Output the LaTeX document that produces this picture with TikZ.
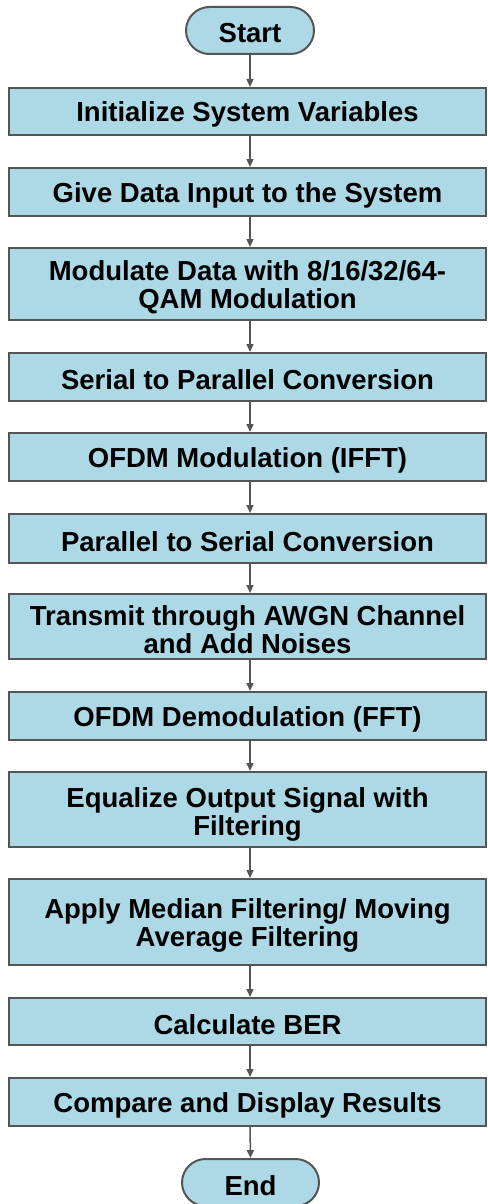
\documentclass[tikz,border=0pt]{standalone}
\usepackage{fontspec}
\setmainfont{Liberation Sans}
\usetikzlibrary{arrows.meta,shapes.misc}
\definecolor{boxfill}{HTML}{ADD8E6}
\definecolor{edge}{HTML}{555555}
\tikzset{
  txt/.style={align=center, inner sep=0pt, yshift=-3pt, font=\fontsize{27.5}{28}\selectfont\bfseries},
  stepbox/.style={draw=edge, fill=boxfill, line width=2pt, rectangle, minimum width=477pt, inner sep=0pt},
  term/.style={draw=edge, fill=boxfill, line width=2pt, rounded rectangle, inner sep=0pt, minimum height=47pt},
  arr/.style={draw=edge, line width=1.5pt, -{Triangle[length=8pt,width=7pt]}}
}
\begin{document}
\begin{tikzpicture}[x=1pt,y=1pt]
\useasboundingbox (0,0) rectangle (487,-1204);
\begin{scope}
\clip (0,0) rectangle (487,-1204);
\node[term, minimum width=128pt, label={[txt]center:Start}] (start) at (250,-30.5) {};
\node[stepbox, minimum height=47pt, label={[txt]center:Initialize System Variables}] (b1) at (247.5,-111.5) {};
\node[stepbox, minimum height=48pt, label={[txt]center:Give Data Input to the System}] (b2) at (247.5,-192) {};
\node[stepbox, minimum height=72pt, label={[txt]center:Modulate Data with 8/16/32/64-\\QAM Modulation}] (b3) at (247.5,-284) {};
\node[stepbox, minimum height=48pt, label={[txt]center:Serial to Parallel Conversion}] (b4) at (247.5,-377) {};
\node[stepbox, minimum height=48pt, label={[txt]center:OFDM Modulation (IFFT)}] (b5) at (247.5,-457) {};
\node[stepbox, minimum height=49pt, label={[txt]center:Parallel to Serial Conversion}] (b6) at (247.5,-538.5) {};
\node[stepbox, minimum height=65pt, label={[txt]center:Transmit through AWGN Channel\\and Add Noises}] (b7) at (247.5,-626.5) {};
\node[stepbox, minimum height=48pt, label={[txt]center:OFDM Demodulation (FFT)}] (b8) at (247.5,-716) {};
\node[stepbox, minimum height=75pt, label={[txt,yshift=-2pt]center:Equalize Output Signal with\\Filtering}] (b9) at (247.5,-809.5) {};
\node[stepbox, minimum height=86pt, label={[txt]center:Apply Median Filtering/ Moving\\Average Filtering}] (b10) at (247.5,-922) {};
\node[stepbox, minimum height=47pt, label={[txt]center:Calculate BER}] (b11) at (247.5,-1021.5) {};
\node[stepbox, minimum height=48pt, label={[txt]center:Compare and Display Results}] (b12) at (247.5,-1102) {};
\node[term, minimum width=137pt, label={[txt]center:End}] (end) at (250.5,-1182.5) {};
\draw[arr] (start.south) -- (b1.north -| start);
\foreach \a/\b in {b1/b2,b2/b3,b3/b4,b4/b5,b5/b6,b6/b7,b7/b8,b8/b9,b9/b10,b10/b11,b11/b12}
  \draw[arr] (\a.south -| start) -- (\b.north -| start);
\draw[arr] (b12.south -| start) -- (end.north);
\end{scope}
\end{tikzpicture}
\end{document}
